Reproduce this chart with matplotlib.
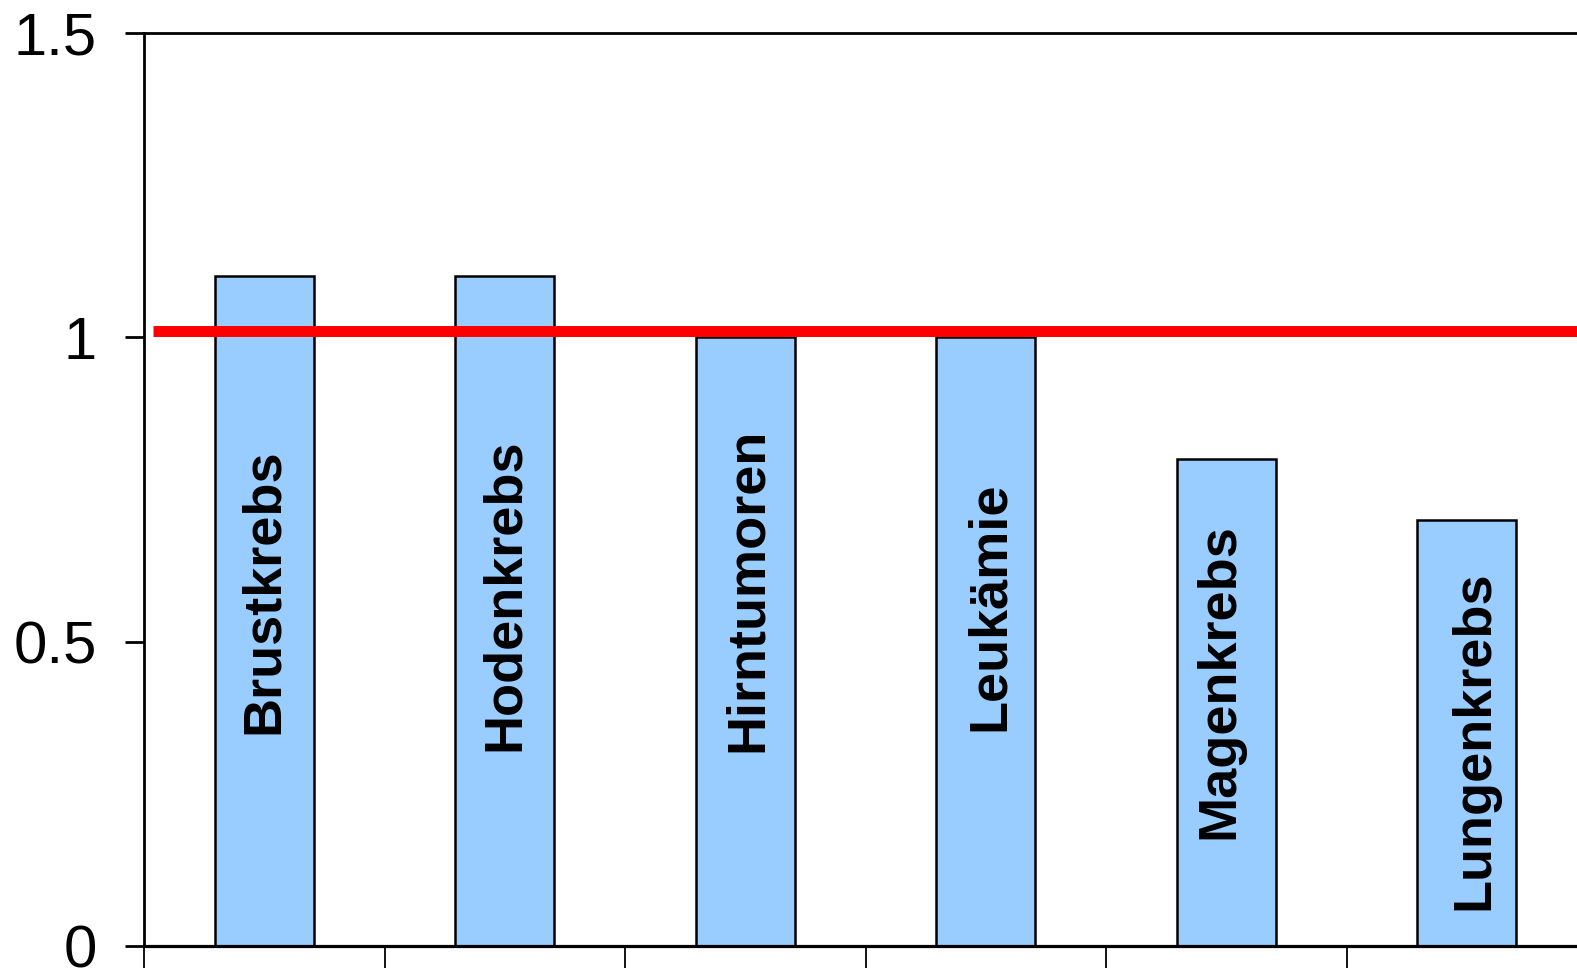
import matplotlib
matplotlib.use("Agg")
import matplotlib.pyplot as plt
import numpy as np

# Relative risk by cancer type
categories = ["Brustkrebs", "Hodenkrebs", "Hirntumoren", "Leukämie", "Magenkrebs", "Lungenkrebs"]
values = [1.1, 1.1, 1.0, 1.0, 0.8, 0.7]
reference_level = 1.01
y_ticks = [0, 0.5, 1, 1.5]
y_tick_labels = ["0", "0.5", "1", "1.5"]

# where each rotated name sits inside its bar (data units)
label_y = [0.583, 0.577, 0.585, 0.558, 0.435, 0.338]
label_dx = [0.0, 0.0, 0.012, 0.017, -0.03, 0.03]

plt.rcParams["font.family"] = ["Liberation Sans", "DejaVu Sans"]

fig = plt.figure(figsize=(15.77, 9.68), dpi=100)
ax = fig.add_axes([144 / 1577, 22 / 968, 1443 / 1577, 913.3 / 968])

x = np.arange(len(categories))
ax.bar(x, values, width=0.41, color="#99CCFF", edgecolor="black", linewidth=1.8, zorder=2)

for xi, name, ly, dx in zip(x, categories, label_y, label_dx):
    ax.text(xi + dx, ly, name, rotation=90, ha="center", va="center",
            fontsize=39, fontweight="bold", zorder=3)

ax.plot([-0.464, 6.0], [reference_level, reference_level], color="#FF0000",
        linewidth=7.9, solid_capstyle="butt", zorder=4, clip_on=False)

ax.set_xlim(-0.5, len(categories) - 0.5)
ax.set_ylim(0, 1.5)

ax.set_yticks(y_ticks)
ax.set_yticklabels(y_tick_labels, fontsize=43)
ax.tick_params(axis="y", direction="out", length=14, width=2, pad=20)

# category boundaries as ticks on the x axis, without labels
ax.set_xticks(np.arange(len(categories) + 1) - 0.5)
ax.set_xticklabels([])
ax.tick_params(axis="x", direction="out", length=20, width=1.3)

for side in ["left", "top", "right"]:
    ax.spines[side].set_linewidth(2)
ax.spines["bottom"].set_linewidth(2.3)

fig.savefig("out.png", dpi=100)
